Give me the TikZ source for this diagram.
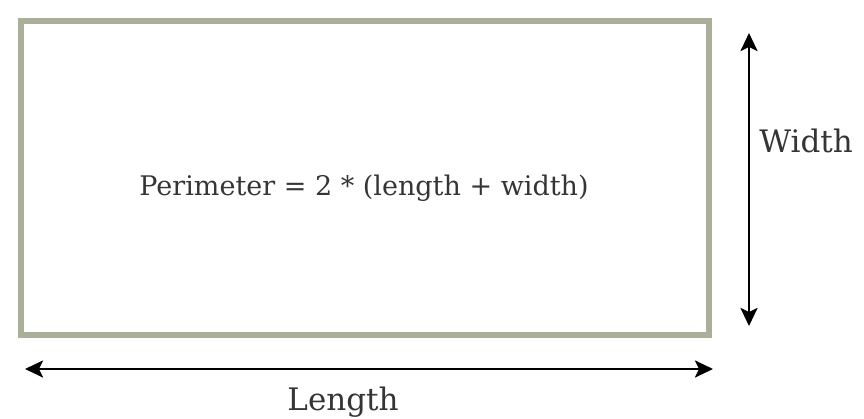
\documentclass[tikz,border=0pt]{standalone}
\usepackage{fontspec}
\setmainfont{DejaVu Serif}
\usetikzlibrary{positioning, arrows.meta}
\definecolor{framegreen}{HTML}{A9AF98}
\definecolor{textgray}{HTML}{353535}
\tikzset{
x=1pt, y=-1pt, % one unit is one pixel of the drawing, y runs down
frame/.style={draw=framegreen, line width=6.5pt}, % the rectangle's border
dimline/.style={{Stealth[length=18pt,width=17pt,inset=4pt]}-{Stealth[length=18pt,width=17pt,inset=4pt]}, line width=2.6pt}, % dimension arrows
dimtext/.style={text=textgray, font=\fontsize{27}{31}\selectfont}, % the formula
sidetext/.style={dimtext, font=\fontsize{31}{35}\selectfont}, % Width and Length
}
\begin{document}
\begin{tikzpicture}
    \useasboundingbox (0,0) rectangle (864,418);
    \coordinate (tl) at (21,21);
    \coordinate (br) at (709,335);
    \draw[frame] (tl) rectangle (br);

    \node[dimtext] (formula) at (364,188) {Perimeter = 2 * (length + width)};

    \coordinate (wtop) at (749,33);
    \coordinate (wbot) at (749,326);
    \node[sidetext] (width) at (806,141) {Width};

    \coordinate (lleft) at (25,369);
    \coordinate (lright) at (713,369);
    \node[sidetext] (length) at (343,402) {Length};

    \draw[dimline] (wtop) -- (wbot);
    \draw[dimline] (lleft) -- (lright);
\end{tikzpicture}
\end{document}
